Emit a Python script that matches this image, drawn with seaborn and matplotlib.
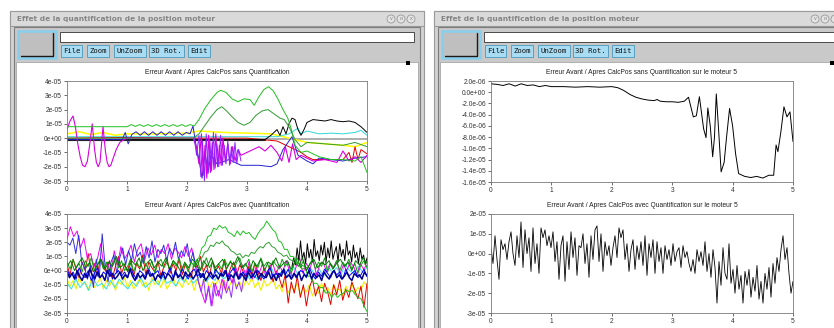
import numpy as np
import pandas as pd
import seaborn as sns
import matplotlib.pyplot as plt
from matplotlib.patches import Rectangle, Circle

sns.set_style("white")
plt.rcParams['font.family'] = ['Liberation Sans', 'DejaVu Sans']

W, H = 834, 328
win_title = "Effet de la quantification de la position moteur"
buttons = ["File", "Zoom", "UnZoom", "3D Rot.", "Edit"]

titles = ["Erreur Avant / Apres CalcPos sans Quantification",
          "Erreur Avant / Apres CalcPos avec Quantification",
          "Erreur Avant / Apres CalcPos sans Quantification sur le moteur 5",
          "Erreur Avant / Apres CalcPos avec Quantification sur le moteur 5"]
x_ticks = [0, 1, 2, 3, 4, 5]
left_yticks = [4, 3, 2, 1, 0, -1, -2, -3]
left_ylabels = ["4e-05", "3e-05", "2e-05", "1e-05", "0e+00", "-1e-05", "-2e-05", "-3e-05"]
tr_yticks = [2, 0, -2, -4, -6, -8, -10, -12, -14, -16]
tr_ylabels = ["2.0e-06", "0.0e+00", "-2.0e-06", "-4.0e-06", "-6.0e-06", "-8.0e-06",
              "-1.0e-05", "-1.2e-05", "-1.4e-05", "-1.6e-05"]
br_yticks = [2, 1, 0, -1, -2, -3]
br_ylabels = ["2e-05", "1e-05", "0e+00", "-1e-05", "-2e-05", "-3e-05"]

# ---- top left : sans quantification (units 1e-5) ----
tl_gray_t = [0, 5]
tl_gray_v = [-0.05, -0.05]
tl_dk_t = [0, 3.3]
tl_dk_v = [-0.12, -0.12]
tl_yel_t = [0, 0.2, 0.4, 0.6, 0.8, 1.0, 1.5, 2.0, 2.2, 2.6, 3.0, 3.4, 3.6, 3.8, 4.0, 4.3, 4.6, 4.8, 5.0]
tl_yel_v = [0.3, 0.45, 0.25, 0.4, 0.2, 0.3, 0.3, 0.35, 0.5, 0.4, 0.35, 0.3, 0.1, -0.1, -0.3, -0.4, -0.5, -0.6, -0.3]
tl_cya_t = [0, 3.5, 3.7, 3.85, 3.9, 4.0, 4.2, 4.4, 4.6, 4.8, 4.9, 5.0]
tl_cya_v = [0.1, 0.1, 0.3, 0.7, 0.3, 0.5, 0.3, 0.35, 0.3, 0.4, 0.55, 0.2]
tl_red_t = [0, 1.0, 2.0, 3.0, 3.5, 3.7, 3.9, 4.0, 4.1, 4.2, 4.4, 4.6, 4.7, 4.75, 4.8, 4.85, 4.9, 5.0]
tl_red_v = [0.0, 0.05, 0.0, 0.0, -0.2, -0.6, -1.0, -1.3, -1.5, -1.5, -1.5, -1.5, -1.0, -1.7, -0.6, -1.5, -0.8, -1.1]
tl_blk_t = [0, 3.3, 3.4, 3.5, 3.55, 3.6, 3.65, 3.7, 3.75, 3.8, 3.85, 3.9, 3.95, 4.0, 4.1, 4.2,
            4.3, 4.4, 4.5, 4.6, 4.7, 4.8, 4.9, 5.0]
tl_blk_v = [-0.1, -0.1, 0.2, 0.6, 0.2, 0.8, 0.3, 1.0, 1.4, 1.3, 0.6, 0.2, 0.6, 1.1, 1.3, 1.25,
            1.2, 1.3, 1.2, 1.15, 1.2, 1.1, 0.8, 0.4]
tl_blu_t = [0, 0.92, 0.97, 1.02, 1.08, 1.15, 1.22, 1.29, 1.36, 1.43, 1.5, 1.57, 1.64, 1.71,
            1.78, 1.85, 1.92, 1.99, 2.05, 2.1, 2.15, 2.2, 2.25, 2.3, 2.35, 2.4, 2.5, 2.7, 2.9,
            3.0, 3.2, 3.4, 3.5, 3.6, 3.7, 3.75, 3.85, 4.0, 4.1, 4.2, 4.4, 4.6, 4.8, 5.0]
tl_blu_v = [-0.1, -0.1, 0.4, -0.4, 0.25, 0.45, 0.2, 0.45, 0.2, 0.45, 0.2, 0.45, 0.2, 0.45,
            0.2, 0.45, 0.2, 0.4, 0.3, 0.85, -0.5, -1.5, -2.8, -1.0, -2.4, -1.2, -1.8, -1.5,
            -1.9, -1.9, -1.9, -2.0, -1.8, -0.8, -0.2, 0.1, -1.2, -1.6, -1.8, -1.4, -1.5, -1.6,
            -1.4, -1.3]
tl_mag_t = [0, 0.05, 0.1, 0.14, 0.18, 0.22, 0.26, 0.3, 0.34, 0.38, 0.42, 0.46, 0.49, 0.52,
            0.55, 0.6, 0.64, 0.67, 0.7, 0.73, 0.77, 0.82, 0.88, 0.95, 1.0, 2.1, 2.15, 2.2,
            2.24, 2.27, 2.3, 2.33, 2.36, 2.39, 2.42, 2.45, 2.48, 2.51, 2.54, 2.57, 2.6, 2.64,
            2.68, 2.72, 2.76, 2.8, 2.85, 2.9, 3.0, 3.1, 3.2, 3.3, 3.4, 3.5, 3.58, 3.64, 3.7,
            3.76, 3.82, 3.9, 4.0, 4.1, 4.3, 4.5, 4.6, 4.7, 4.8, 4.9, 5.0]
tl_mag_v = [0.6, 1.2, 1.55, 0.8, -0.4, -1.3, -1.9, -2.0, -1.6, -0.4, 1.0, -0.8, -1.7, -2.0,
            -1.7, 0.8, -0.9, -1.7, -2.0, -1.9, -1.4, -0.8, -0.3, -0.1, 0.0, 0.0, -0.5, -1.8,
            0.3, -2.6, -0.5, -2.8, 0.2, -2.4, -0.3, -2.2, 0.3, -2.0, -0.5, -1.9, 0.0, -1.7,
            -0.4, -1.8, -0.6, -1.6, -0.8, -1.2, -1.0, -0.8, -0.6, -0.9, -0.5, -1.0, -1.6, -0.6,
            -1.7, -0.4, -1.5, -1.2, -1.4, -1.6, -1.5, -1.7, -0.9, -1.6, -1.3, -1.7, -1.2]
tl_pur_t = [2.12, 2.16, 2.2, 2.23, 2.26, 2.29, 2.32, 2.35, 2.38, 2.41, 2.44, 2.47, 2.5, 2.53,
            2.56, 2.59, 2.62, 2.65, 2.68, 2.71, 2.74, 2.77, 2.8, 2.83, 2.86, 2.9]
tl_pur_v = [0.0, -1.2, 0.2, -2.7, -0.2, -3.0, 0.3, -2.5, -0.1, -2.3, 0.4, -2.1, -0.4, -2.0,
            0.2, -1.9, -0.5, -1.8, -0.2, -1.9, -0.6, -1.7, -0.3, -1.8, -0.8, -1.6]
tl_gra_t = [0, 1.0, 1.07, 1.14, 1.21, 1.28, 1.35, 1.42, 1.49, 1.56, 1.63, 1.7, 1.77, 1.84,
            1.91, 1.98, 2.05, 2.12, 2.2, 2.3, 2.4, 2.5, 2.56, 2.65, 2.75, 2.85, 2.95, 3.05,
            3.12, 3.2, 3.28, 3.36, 3.44, 3.52, 3.6, 3.68, 3.74, 3.8, 3.9, 4.0, 4.2, 4.4, 4.6,
            4.8, 4.9, 5.0]
tl_gra_v = [0.8, 0.8, 0.95, 0.82, 0.95, 0.82, 0.95, 0.82, 0.95, 0.82, 0.95, 0.82, 0.95, 0.82,
            0.95, 0.82, 0.95, 0.85, 1.3, 2.1, 2.7, 3.2, 3.35, 3.2, 2.75, 2.55, 2.75, 2.7, 2.3,
            2.9, 3.4, 3.6, 3.3, 2.7, 2.0, 1.4, 0.6, -0.5, -1.0, -0.9, -1.3, -1.5, -1.5, -1.6,
            -1.3, -2.4]
tl_grb_t = [0, 2.1, 2.2, 2.3, 2.4, 2.5, 2.58, 2.66, 2.75, 2.85, 2.95, 3.05, 3.15, 3.25, 3.35,
            3.45, 3.55, 3.62, 3.7, 3.8, 3.9, 4.0, 4.3, 4.6, 4.8, 5.0]
tl_grb_v = [0.0, 0.0, 0.3, 0.9, 1.5, 2.0, 2.2, 1.9, 1.5, 1.1, 0.9, 1.1, 1.6, 1.9, 2.0, 1.7,
            1.4, 1.3, 0.8, -0.1, -0.6, -0.3, -0.4, -0.5, -0.3, -0.6]

# ---- bottom left : avec quantification (units 1e-5, evenly sampled) ----
bl_yel = [-0.6, -1.1, -0.7, -1.3, -0.5, -1.0, -0.8, -1.4, -0.6, -1.2,
          -0.9, -0.5, -1.3, -0.7, -1.1, -0.6, -1.4, -0.8, -1.0, -0.5,
          -1.2, -0.7, -1.3, -0.9, -0.6, -1.1, -0.8, -1.4, -0.5, -1.0,
          -0.7, -1.2, -0.6, -1.3, -0.9, -0.5, -1.1, -0.8, -1.2, -0.6,
          -1.0, -0.7, -1.4, -0.6, -1.1, -0.9, -0.5, -1.3, -0.8, -1.0,
          -0.6, -1.2, -0.7, -1.4, -0.9, -0.6, -1.1, -0.8, -1.3, -0.7,
          -1.0, -0.5, -1.2, -0.8, -1.4, -0.7, -1.1, -0.9, -0.6, -1.3,
          -1.0, -1.5, -0.8, -1.6, -1.1, -1.4, -0.9, -1.7, -1.2, -1.5,
          -1.0, -1.8, -1.3, -1.6, -0.9, -1.5, -1.2, -1.7, -1.0, -1.4,
          -1.3, -1.8, -1.1, -1.5, -0.9, -1.6, -1.2, -1.4, -0.8, -1.1]
bl_cya = [-0.9, -1.3, -0.6, -1.2, -0.8, -1.4, -0.5, -1.1, -0.9, -1.3,
          -0.7, -1.2, -0.6, -1.0, -1.3, -0.8, -1.1, -0.5, -1.2, -0.9,
          -0.6, -1.0, -0.4, -0.9, -0.7, -1.1, -0.5, -0.8, -0.3, -0.9,
          -0.6, -0.2, -0.8, -0.4, -0.7, -0.1, -0.6, -0.3, -0.8, -0.2,
          -0.5, 0.0, -0.6, -0.3, -0.7, -0.1, -0.4, 0.2, -0.5, -0.2,
          0.1, -0.4, 0.3, -0.2, 0.0, -0.5, 0.2, -0.3, 0.1, -0.4,
          0.3, -0.1, 0.2, -0.3, 0.4, 0.0, -0.2, 0.3, -0.1, 0.2]
bl_red = [0.4, -0.3, 0.8, 0.1, -0.5, 0.6, 0.0, 1.2, -0.2, 0.5,
          -0.4, 0.9, 0.2, -0.1, 0.7, -0.5, 0.3, 1.0, -0.2, 0.4,
          0.0, 0.8, -0.4, 0.5, 0.1, 1.1, -0.3, 0.6, 0.2, -0.1,
          0.7, -0.4, 0.3, 0.9, -0.2, 0.5, 0.0, 0.8, -0.3, 0.4,
          0.1, -0.5, 0.6, 0.2, 1.0, -0.1, 0.4, -0.4, 0.7, 0.0,
          0.3, -0.2, 0.8, -0.5, 0.2, 0.6, -0.3, 0.4, 0.0, -0.6,
          0.3, -0.4, 0.5, -0.1, -0.7, 0.2, -0.3, 0.4, -0.8, 0.0,
          -0.5, -1.2, -0.3, -2.3, -0.8, -1.6, -0.4, -1.9, -1.0, -2.5,
          -1.2, -0.6, -1.8, -1.1, -2.2, -0.9, -1.5, -2.4, -1.0, -1.7,
          -0.7, -2.1, -1.3, -1.9, -0.8, -1.4, -2.0, -1.1, -2.6, -0.9]
bl_mag = [2.2, 3.1, 2.4, 2.8, 1.6, 2.3, 0.9, 1.2, 0.3, 0.8,
          1.9, 0.2, 0.6, -0.4, 1.4, 0.4, 1.7, 0.8, 1.2, 1.8,
          0.6, 1.5, 1.9, 0.7, 1.6, 1.1, 1.8, 0.9, 1.5, 1.2,
          1.9, 0.8, 1.6, 1.3, 0.9, 1.7, 1.0, 1.6, 0.4, -0.8,
          -1.6, -2.3, -1.1, -2.5, -0.9, -1.8, -0.6, -1.4, -0.2, -0.9,
          0.3, -0.5, 0.4, -0.3, 0.6, -0.6, 0.2, -0.2, 0.5, -0.4,
          0.1, 0.6, -0.3, 0.4, -0.1, 0.7, 0.0, -0.5, 0.3, 0.9,
          -0.2, 0.5, 0.1, 0.8, -0.3, 0.4, 0.6, -0.1, 0.5, 0.2,
          0.7, -0.2, 0.4, 0.0, 0.6, 0.3, -0.3, 0.5, 0.1, 0.4]
bl_lblu = [2.0, 1.8, 2.3, 1.2, 2.5, 0.6, 0.2, -0.6, 0.4, -1.2,
           0.8, -0.5, 2.6, 0.3, -0.8, 0.6, 1.1, -0.2, 0.9, 1.6,
           0.4, 1.4, 0.7, 1.9, 1.0, 1.3, 0.5, 1.7, 0.9, 2.1,
           0.6, 1.5, 1.2, 1.8, 0.7, 1.6, 1.1, 2.0, 0.8, 1.4,
           1.0, 1.9, 0.6, 1.3, 0.2]
bl_pur = [0.2, -0.8, -1.5, -0.6, -2.1, -1.2, -2.5, -0.9, -1.8, -1.4,
          -2.0, -0.7, -1.6, -1.1, -1.9, -0.5, -1.3, -0.8, -1.5, -0.4]
bl_blk = [0.3, 0.9, 0.4, 1.6, 0.7, 2.1, 0.8, 1.3, 0.5, 1.9,
          0.9, 1.5, 0.6, 2.2, 1.0, 1.4, 0.7, 1.8, 1.1, 2.0,
          0.6, 1.6, 0.9, 2.1, 0.8, 1.3, 1.7, 0.6, 1.9, 1.0,
          1.5, 0.7, 2.1, 1.1, 1.4, 0.6, 1.8, 0.9, 1.3, 0.5,
          1.6, 0.8, 1.1, 0.4, 0.9]
bl_ghA = [0.3, 0.7, 0.9, 1.6, 1.8, 2.4, 2.5, 3.0, 2.9, 3.2,
          3.0, 3.1, 2.7, 2.6, 2.4, 2.8, 2.5, 2.8, 2.6, 2.7,
          2.4, 2.2, 2.6, 2.9, 3.1, 3.5, 3.2, 2.9, 2.7, 2.1,
          2.0, 1.5, 1.5, 1.0, 1.0, 0.6, 0.5, 0.1, 0.2, -0.4,
          -0.4, -0.9, -0.9, -1.2, -1.2, -1.6, -1.5, -1.9, -1.6, -1.9,
          -1.7, -1.6, -1.4, -1.5, -1.4, -1.7, -1.9, -2.0, -2.5, -2.9]
bl_ghB = [0.2, 0.4, 0.7, 0.9, 1.3, 1.4, 1.8, 1.7, 2.0, 1.9,
          2.1, 1.8, 1.7, 1.4, 1.3, 1.1, 1.2, 0.9, 1.1, 1.0,
          1.3, 1.2, 1.5, 1.7, 1.6, 1.9, 2.0, 1.7, 1.6, 1.3,
          1.2, 1.0, 1.1, 0.8, 0.7, 0.8, 0.5, 0.4, 0.3, 0.2]
bl_grn = [0.6, 0.1, 0.8, 0.2, 0.5, -0.1, 0.7, 0.3, 0.9, 0.0,
          0.4, 0.8, 0.1, 0.6, -0.2, 0.5, 0.9, 0.2, 0.7, 0.0,
          0.3, 0.8, -0.1, 0.6, 0.2, 0.9, 0.4, 0.1, 0.7, -0.2,
          0.5, 0.8, 0.2, 0.6, 0.0, 0.7, 0.3, 0.9, 0.1, 0.5,
          -0.1, 0.6, 0.3, 0.8, 0.0, 0.4, 0.9, 0.2, 0.6, -0.2,
          0.5, 0.1, 0.8, 0.3, 0.7, 0.0, 0.6, 0.9, 0.2, 0.4,
          0.8, -0.1, 0.5, 0.2, 0.9, 0.3, 0.6, 0.0, 0.7, 0.4,
          0.1, 0.8, 0.3, 0.6, -0.2, 0.5, 0.9, 0.2, 0.7, 0.0,
          0.4, 0.8, 0.1, 0.6, 0.3, 0.9, -0.1, 0.5, 0.2, 0.7,
          0.0, 0.6, 0.3, 0.8, 0.1, 0.5, -0.2, 0.4, 0.7, 0.2]
bl_grn2 = [0.3, 0.7, 0.0, 0.5, 0.9, 0.2, 0.6, -0.1, 0.4, 0.8,
           0.1, 0.6, 0.3, 1.0, 0.2, 0.5, -0.1, 0.7, 0.4, 0.9,
           0.0, 0.5, 0.8, 0.2, 0.6, 0.3, 0.9, 0.1, 0.7, 0.4,
           -0.1, 0.6, 0.2, 0.8, 0.5, 0.0, 0.7, 0.3, 0.9, 0.2,
           0.5, 0.8, 0.1, 0.6, 0.4, 1.0, 0.2, 0.5, -0.1, 0.7,
           0.3, 0.8, 0.0, 0.6, 0.4, 0.9, 0.2, 0.5, 0.7, 0.1,
           0.6, 0.3, 0.9, 0.0, 0.5, 0.8, 0.2, 0.6, 0.4, 0.7,
           0.1, 0.5, 0.8, 0.3, 0.6, 0.0, 0.7, 0.4, 0.9, 0.5]
bl_blu = [0.1, -0.4, -0.1, -0.6, 0.2, -0.3, -0.5, 0.0, -0.7, -0.2,
          0.2, -0.5, -0.1, -0.3, 0.1, -0.6, -0.2, 0.0, -0.4, -0.1,
          -0.5, 0.2, -0.3, -0.6, 0.0, -0.2, -0.5, 0.1, -0.4, -0.2,
          0.0, -0.6, -0.1, -0.3, 0.2, -0.5, -0.2, -0.4, 0.1, -0.3,
          -0.6, -0.1, 0.1, -0.4, -0.2, -0.5, 0.0, -0.3, -0.6, 0.1,
          -0.2, -0.4, 0.0, -0.5, -0.1, 0.2, -0.3, -0.6, -0.1, -0.4,
          0.1, -0.2, -0.5, 0.0, -0.3, -0.6, -0.1, 0.2, -0.4, -0.2,
          -0.5, 0.0, -0.3, 0.1, -0.6, -0.2, -0.4, 0.0, -0.1, -0.5,
          0.2, -0.3, -0.6, -0.1, -0.4, 0.1, -0.2, -0.5, 0.0, -0.3,
          -0.1, -0.6, 0.1, -0.4, -0.2, 0.0, -0.5, -0.3, 0.1, -0.4]
bl_nav = [-0.1, -0.5, -0.2, -0.6, 0.0, -0.4, -0.7, -0.2, -0.5, 0.1,
          -0.3, -0.6, -0.1, -0.5, -0.3, -0.7, 0.0, -0.4, -0.2, -0.6,
          -0.4, -0.1, -0.6, -0.3, -0.5, 0.1, -0.4, -0.7, -0.2, -0.5,
          -0.3, -0.6, 0.0, -0.4, -0.2, -0.7, -0.3, -0.5, -0.1, -0.6,
          -0.2, -0.4, -0.7, 0.0, -0.5, -0.3, -0.6, -0.1, -0.4, -0.2,
          -0.6, -0.3, 0.1, -0.5, -0.2, -0.7, -0.4, -0.1, -0.5, -0.3,
          -0.6, -0.2, -0.4, 0.0, -0.7, -0.3, -0.5, -0.1, -0.6, -0.2,
          -0.4, -0.7, -0.1, -0.5, -0.3, 0.0, -0.6, -0.2, -0.4, -0.5,
          -0.1, -0.6, -0.3, -0.7, -0.2, -0.4, 0.1, -0.5, -0.3, -0.6,
          -0.2, -0.5, -0.1, -0.7, -0.3, -0.4, 0.0, -0.6, -0.2, -0.5,
          -0.3, -0.7, -0.1, -0.4, -0.6, -0.2, 0.0, -0.5, -0.3, -0.6,
          -0.4, -0.1, -0.5, -0.7, -0.2, -0.4, -0.3, -0.6, -0.1, -0.4]

# ---- top right : motor 5 sans quantification (units 1e-6) ----
tr_t = [0, 0.1, 0.2, 0.3, 0.4, 0.5, 0.6, 0.7, 0.8, 0.9, 1.0, 1.2, 1.4, 1.6, 1.8, 2.0, 2.1,
        2.2, 2.3, 2.4, 2.5, 2.6, 2.7, 2.75, 2.8, 2.9, 3.0, 3.1, 3.2, 3.27, 3.35, 3.4, 3.45,
        3.52, 3.56, 3.59, 3.63, 3.67, 3.7, 3.73, 3.77, 3.81, 3.86, 3.9, 3.95, 4.0, 4.05, 4.1,
        4.2, 4.3, 4.4, 4.5, 4.6, 4.68, 4.72, 4.75, 4.8, 4.85, 4.9, 4.95, 5.0]
tr_v = [1.5, 1.4, 1.2, 1.5, 1.1, 1.5, 1.2, 1.3, 1.0, 1.2, 1.0, 1.0, 0.9, 1.0, 0.9, 1.0, 0.8,
        0.3, -0.4, -0.9, -1.2, -1.4, -1.5, -1.3, -1.6, -1.7, -1.7, -1.8, -1.6, -0.9, -4.4,
        -4.2, -0.8, -6.5, -8.1, -2.8, -6.0, -11.5, -8.0, -0.3, -7.0, -14.2, -12.5, -8.0,
        -2.9, -6.0, -11.0, -14.5, -15.0, -15.2, -15.0, -15.3, -14.8, -14.8, -9.4, -10.6,
        -7.0, -2.6, -4.4, -3.5, -8.8]

# ---- bottom right : motor 5 avec quantification (units 1e-5, evenly sampled) ----
br_v = [0.3, -0.5, 0.9, -0.3, -1.3, 0.7, 0.2, 0.5, -0.3, 0.6, 1.1, 0.0, -0.6,
        0.9, -0.2, 1.6, -0.7, 1.2, 0.0, 0.8, -0.9, 1.3, -0.5, 0.5, -1.0,
        1.3, 0.8, 1.2, 0.4, 0.9, 0.3, 1.1, -0.4, 0.6, -1.3, 0.4,
        0.9, -1.4, 0.6, -0.8, 1.1, -0.2, 0.8, -1.1, 0.4, 0.3, 1.0, -0.5,
        0.5, -1.2, 0.9, -0.3, 1.2, 1.4, -0.4, 1.0, -0.9, 0.6, -0.1,
        0.4, -0.6, 0.3, 0.9, -0.2, 1.3, 0.8, 1.2, -0.3, 0.5, -0.9, 0.2,
        0.7, -0.8, 0.4, -0.3, 0.6, -0.6, 0.9, -1.1, 0.5, -0.2, 0.7, -1.0,
        0.6, -0.4, 0.3, -1.0, 0.4, -0.3, 0.2, -0.6, 0.5, -0.4, 0.1,
        0.3, -0.7, 0.4, -0.2, 0.1, -0.5, -0.9, -0.3, -1.0, 0.2, -0.4, 0.1,
        -0.6, 0.6, -0.9, 0.0, -1.2, 0.2, -0.7, -2.5, -0.4, -1.6, 0.3, -1.0,
        -1.3, 0.5, -1.5, -0.8, -2.0, -0.6, -1.8, -1.1, -2.5, -0.9, -1.6, -0.8,
        -2.2, -1.2, -1.9, -0.6, -2.3, -1.4, -2.5, -1.0, -1.8, -0.7, -2.2, -0.5,
        -1.5, -0.2, -0.9, 0.2, 0.9, -0.3, 0.3, -1.0, -2.0, -1.4]


fig = plt.figure(figsize=(W / 100, H / 100), dpi=100)
bg = fig.add_axes([0, 0, 1, 1])
bg.set_xlim(0, W)
bg.set_ylim(H, 0)
bg.axis('off')


def box(x0, y0, x1, y1, fc, ec='none', lw=0.8):
    bg.add_patch(Rectangle((x0, y0), x1 - x0, y1 - y0, fc=fc, ec=ec, lw=lw))


def window(dx):
    # frame, title bar, toolbar, white drawing area
    box(dx + 10, 11, dx + 424, H + 5, '#d2d2d2', '#9a9a9a')
    box(dx + 10, 11, dx + 424, 26, '#dadada', '#9a9a9a')
    bg.text(dx + 17, 19, win_title, fontsize=5.3, fontweight='bold', color='#858585',
            va='center', family='DejaVu Sans')
    for cx, sym in zip([391, 401, 411], ['v', 'o', 'x']):
        bg.add_patch(Circle((dx + cx, 19), 4, fc='#e4e4e4', ec='#9a9a9a', lw=0.6))
        if dx + cx + 3 < W:
            bg.text(dx + cx, 19, sym, fontsize=4, color='#808080', ha='center', va='center')
    box(dx + 14, 27, dx + 420, H + 5, '#c9c9c9', '#7c7c7c')
    box(dx + 18, 31, dx + 56, 58, '#bfbfbf', '#86cfee', lw=1.8)
    bg.plot([dx + 21, dx + 53, dx + 53], [55.5, 55.5, 33], color='#1a1a1a', lw=1)
    box(dx + 60, 32, dx + 414, 42, 'white', '#4a4a4a', lw=0.7)
    for lab, x0, x1 in zip(buttons, [61, 87, 114, 149, 188], [82, 109, 146, 184, 210]):
        box(dx + x0, 45, dx + x1, 57, '#a8dcf2', '#5a9fc0', lw=0.7)
        bg.text(dx + (x0 + x1) / 2, 51.3, lab, fontsize=5.2, family='DejaVu Sans Mono',
                ha='center', va='center', color='#111111')
    box(dx + 16, 62, dx + 418, H + 5, 'white', '#a8a8a8', lw=0.6)
    box(dx + 406, 61, dx + 410, 65, 'black')


window(0)
window(424)


def panel(x0, y0, x1, y1, title, yt, ylab, ylim):
    ax = fig.add_axes([x0 / W, 1 - y1 / H, (x1 - x0) / W, (y1 - y0) / H])
    ax.set_facecolor('white')
    ax.set_xlim(0, 5)
    ax.set_ylim(*ylim)
    ax.set_xticks(x_ticks)
    ax.set_xticklabels([str(v) for v in x_ticks])
    ax.set_yticks(yt)
    ax.set_yticklabels(ylab)
    ax.tick_params(direction='out', length=2.5, width=0.5, labelsize=4.8, pad=1,
                   colors='#333333', left=True, bottom=True)
    for s in ax.spines.values():
        s.set_color('#7a7a7a')
        s.set_linewidth(0.6)
    ax.set_title(title, fontsize=4.8, pad=5, color='#202020')
    return ax


def trace(ax, t, v, color, scale=1e-5, lw=0.7):
    d = pd.DataFrame({'t': t, 'v': np.asarray(v, dtype=float) * scale})
    sns.lineplot(data=d, x='t', y='v', ax=ax, color=color, lw=lw, sort=False, estimator=None)
    ax.set_xlabel('')
    ax.set_ylabel('')


def even(a, b, v):
    return np.linspace(a, b, len(v))


# top left
ax = panel(67, 81, 367, 181, titles[0], np.array(left_yticks) * 1e-5, left_ylabels, (-3e-5, 4e-5))
trace(ax, tl_gray_t, tl_gray_v, '#a0a0a0', lw=1.2)
trace(ax, tl_dk_t, tl_dk_v, '#202020', lw=0.8)
trace(ax, tl_yel_t, tl_yel_v, '#ffff00', lw=1.1)
trace(ax, tl_cya_t, tl_cya_v, '#30d8d8')
trace(ax, tl_red_t, tl_red_v, '#e00000')
trace(ax, tl_blk_t, tl_blk_v, '#000000')
trace(ax, tl_blu_t, tl_blu_v, '#2020d0')
trace(ax, tl_mag_t, tl_mag_v, '#d800e0', lw=0.8)
trace(ax, tl_pur_t, tl_pur_v, '#9020ff')
trace(ax, tl_gra_t, tl_gra_v, '#20c020')
trace(ax, tl_grb_t, tl_grb_v, '#309a30')

# bottom left
ax = panel(67, 214, 367, 313, titles[1], np.array(left_yticks) * 1e-5, left_ylabels, (-3e-5, 4e-5))
trace(ax, even(0, 5, bl_yel), bl_yel, '#f0f000', lw=0.8)
trace(ax, even(0, 5, bl_cya), bl_cya, '#30e0e0')
trace(ax, even(0, 5, bl_red), bl_red, '#e00000')
trace(ax, even(0, 5, bl_mag), bl_mag, '#f000f0')
trace(ax, even(0, 2.15, bl_lblu), bl_lblu, '#3030e0')
trace(ax, even(2.15, 2.95, bl_pur), bl_pur, '#9933ff')
trace(ax, even(3.75, 5, bl_blk), bl_blk, '#000000')
trace(ax, even(2.1, 5, bl_ghA), bl_ghA, '#20c020')
trace(ax, even(2.1, 4, bl_ghB), bl_ghB, '#30a030')
trace(ax, even(0, 5, bl_grn), bl_grn, '#10a010')
trace(ax, even(0, 5, bl_grn2), bl_grn2, '#007a00')
trace(ax, even(0, 5, bl_blu), bl_blu, '#0000ff')
trace(ax, even(0, 5, bl_nav), bl_nav, '#000090', lw=1.1)

# top right
ax = panel(491, 81, 793, 182, titles[2], np.array(tr_yticks) * 1e-6, tr_ylabels, (-1.6e-5, 2e-6))
trace(ax, tr_t, tr_v, '#000000', 1e-6, 0.7)

# bottom right
ax = panel(491, 214, 793, 313, titles[3], np.array(br_yticks) * 1e-5, br_ylabels, (-3e-5, 2e-5))
trace(ax, even(0, 5, br_v), br_v, '#000000', 1e-5, 0.6)

fig.savefig("out.png", dpi=100)
